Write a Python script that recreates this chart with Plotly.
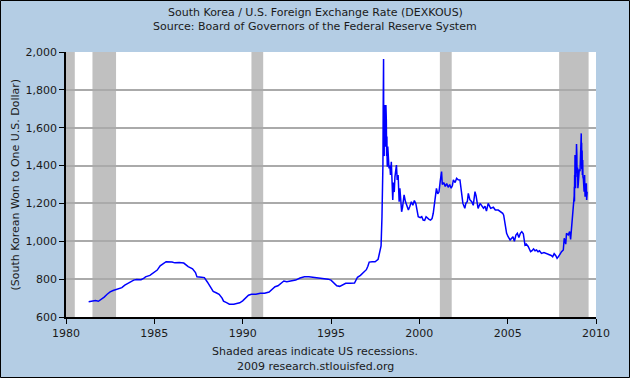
import plotly.graph_objects as go

# ---- data ----
dates = [
    "1981-04-13","1981-07-01","1981-09-01","1981-11-01","1982-01-01","1982-03-01","1982-05-01","1982-07-01",
    "1982-09-01","1982-11-01","1983-01-01","1983-03-01","1983-05-01","1983-08-01","1983-11-01","1984-01-01",
    "1984-04-01","1984-06-01","1984-07-01","1984-10-01","1985-01-01","1985-03-01","1985-05-01","1985-07-01",
    "1985-09-01","1986-01-01","1986-03-01","1986-06-01","1986-09-01","1986-12-01","1987-03-01","1987-05-01",
    "1987-06-01","1987-09-01","1987-11-01","1988-01-01","1988-03-01","1988-05-01","1988-07-01","1988-09-01",
    "1988-11-01","1988-12-01","1989-02-01","1989-04-01","1989-07-01","1989-09-01","1989-11-01","1990-01-01",
    "1990-03-01","1990-05-01","1990-07-01","1990-10-01","1991-01-01","1991-04-01","1991-07-01","1991-09-01",
    "1991-11-01","1992-01-01","1992-03-01","1992-05-01","1992-07-01","1992-09-01","1992-11-01","1993-01-01",
    "1993-04-01","1993-07-01","1993-10-01","1994-01-01","1994-05-01","1994-08-01","1994-11-01","1995-01-01",
    "1995-03-01","1995-05-01","1995-07-01","1995-09-01","1995-11-01","1996-02-01","1996-05-01","1996-07-01",
    "1996-09-01","1996-11-01","1997-01-01","1997-02-01","1997-03-01","1997-05-01","1997-07-01","1997-09-01",
    "1997-10-01","1997-11-01","1997-11-20","1997-12-01","1997-12-10","1997-12-15","1997-12-23","1997-12-26",
    "1997-12-29","1998-01-02","1998-01-05","1998-01-07","1998-01-09","1998-01-13","1998-01-16","1998-01-21",
    "1998-01-26","1998-01-30","1998-02-04","1998-02-09","1998-02-13","1998-02-18","1998-02-24","1998-03-02",
    "1998-03-05","1998-03-10",
    "1998-03-20","1998-04-01","1998-04-15","1998-05-01","1998-05-15","1998-06-01","1998-06-15","1998-07-01",
    "1998-07-15","1998-08-01","1998-08-15","1998-09-01","1998-09-15","1998-10-01","1998-10-20","1998-11-10",
    "1998-11-25","1998-12-10","1998-12-31","1999-01-20","1999-02-20","1999-03-20","1999-04-20","1999-05-20",
    "1999-06-20","1999-07-20","1999-08-20","1999-09-20","1999-10-20","1999-11-10","1999-12-10","2000-01-20",
    "2000-02-20","2000-03-20","2000-04-20","2000-05-20","2000-06-20","2000-07-20","2000-08-20","2000-09-20",
    "2000-10-15","2000-11-15","2000-12-20","2001-01-15","2001-02-10","2001-03-10","2001-04-05","2001-04-20",
    "2001-05-20","2001-06-20","2001-07-20","2001-08-20","2001-09-20","2001-10-20","2001-11-15","2001-12-05",
    "2002-01-10","2002-02-10","2002-03-15","2002-04-20","2002-05-20","2002-06-20","2002-07-30","2002-08-20",
    "2002-09-20","2002-10-10","2002-11-10","2002-12-20","2003-01-20","2003-02-25","2003-03-20","2003-04-30",
    "2003-06-10","2003-07-20","2003-08-20","2003-09-20","2003-10-20","2003-11-25","2003-12-20","2004-01-15",
    "2004-03-10","2004-04-20","2004-06-20","2004-08-10","2004-09-20","2004-10-10","2004-11-05","2004-12-10",
    "2005-01-10","2005-02-20","2005-03-20","2005-04-20","2005-05-20","2005-06-20","2005-07-20","2005-08-20",
    "2005-09-20","2005-10-20","2005-11-20","2005-12-25","2006-01-20","2006-03-01","2006-04-20","2006-05-20",
    "2006-06-20","2006-07-20","2006-08-20","2006-09-20","2006-10-20","2006-12-01","2007-01-20","2007-03-10",
    "2007-04-20","2007-05-20","2007-06-20","2007-07-20","2007-08-20","2007-09-20","2007-10-20","2007-11-20",
    "2007-12-20","2008-01-20","2008-02-25","2008-03-15","2008-04-15","2008-05-01","2008-06-05","2008-07-05",
    "2008-07-25","2008-08-20","2008-09-10","2008-09-25","2008-10-07","2008-10-10","2008-10-13","2008-10-16",
    "2008-10-20","2008-10-24","2008-10-28","2008-10-30","2008-11-04","2008-11-10","2008-11-14","2008-11-19",
    "2008-11-24","2008-11-27","2008-12-01","2008-12-05","2008-12-10","2008-12-17","2008-12-22","2008-12-30",
    "2009-01-10","2009-01-20","2009-02-05","2009-02-12","2009-02-20","2009-02-25","2009-03-02","2009-03-05",
    "2009-03-10","2009-03-13","2009-03-20","2009-03-25","2009-04-01","2009-04-06","2009-04-15","2009-04-30",
    "2009-05-10","2009-05-20","2009-06-01","2009-06-15","2009-06-22","2009-07-02",
]
won_per_usd = [
    680,684,687,683,692,705,720,733,
    740,746,748,755,768,783,795,798,
    797,805,812,820,835,848,870,882,
    892,891,886,888,885,866,855,835,
    812,810,808,785,760,735,728,720,
    700,684,676,668,668,670,675,685,
    700,715,720,720,725,725,732,745,
    760,765,778,790,786,789,792,795,
    806,812,812,810,808,806,800,795,
    780,765,762,770,778,778,779,810,
    820,835,850,868,890,892,892,905,
    935,975,1130,1250,1413,1700,1963,1600,
    1500,1700,1450,1720,1600,1700,1500,1720,
    1580,1650,1500,1720,1600,1640,1450,1553,
    1450,1394,
    1500,1447,1385,1400,1350,1420,1320,1218,
    1310,1260,1340,1380,1403,1324,1350,1209,
    1280,1230,1156,1180,1245,1210,1192,1165,
    1185,1209,1190,1215,1200,1175,1130,1125,
    1130,1112,1110,1130,1120,1116,1112,1120,
    1148,1200,1280,1250,1260,1320,1368,1300,
    1310,1290,1305,1285,1300,1280,1295,1324,
    1310,1333,1325,1324,1253,1200,1174,1200,
    1210,1253,1220,1209,1190,1262,1240,1174,
    1200,1183,1175,1185,1160,1200,1190,1174,
    1180,1165,1165,1156,1148,1138,1086,1042,
    1024,1007,1015,1024,1000,1033,1042,1020,
    1042,1051,1040,980,985,973,945,950,
    960,950,954,945,950,936,940,936,
    930,928,925,918,935,925,910,920,
    936,945,954,1016,985,1042,1033,1051,
    1010,1095,1148,1165,1240,1288,1210,1350,
    1300,1456,1350,1420,1280,1400,1340,1480,
    1514,1420,1460,1360,1306,1390,1280,1300,
    1350,1380,1370,1440,1482,1420,1570,1450,
    1520,1380,1480,1350,1430,1340,1330,1262,
    1350,1235,1272,1306,1218,1262,
]
recession_start = ["1980-01-01", "1981-07-01", "1990-07-01", "2001-03-01", "2007-12-01"]
recession_end = ["1980-07-01", "1982-11-01", "1991-03-01", "2001-11-01", "2009-08-01"]
y_ticks = [600, 800, 1000, 1200, 1400, 1600, 1800, 2000]
x_ticks = ["1980-01-01", "1985-01-01", "1990-01-01", "1995-01-01", "2000-01-01", "2005-01-01", "2010-01-01"]
x_tick_labels = ["1980", "1985", "1990", "1995", "2000", "2005", "2010"]

title_lines = ["South Korea / U.S. Foreign Exchange Rate (DEXKOUS)",
               "Source: Board of Governors of the Federal Reserve System"]
footer_lines = ["Shaded areas indicate US recessions.", "2009 research.stlouisfed.org"]
y_title = "(South Korean Won to One U.S. Dollar)"

# ---- figure ----
W, H = 630, 378
L, R, T, B = 66, 34, 52, 61
pw, ph = W - L - R, H - T - B
FONT = "DejaVu Sans"
TXT = "#1a1a1a"

def px_to_paper_x(px):
    return (px - L) / pw

def px_to_paper_y(py):
    return (H - B - py) / ph

fig = go.Figure()
fig.add_trace(go.Scatter(x=dates, y=won_per_usd, mode="lines",
                         line=dict(color="#0000FF", width=1.5), hoverinfo="x+y",
                         showlegend=False))

for s, e in zip(recession_start, recession_end):
    fig.add_shape(type="rect", xref="x", yref="paper", x0=s, x1=e, y0=0, y1=1,
                  fillcolor="#C0C0C0", line=dict(width=0), layer="between")

# outer frame
fig.add_shape(type="rect", xref="paper", yref="paper",
              x0=px_to_paper_x(0.5), x1=px_to_paper_x(W - 0.5),
              y0=px_to_paper_y(H - 0.5), y1=px_to_paper_y(0.5),
              line=dict(color="#000000", width=1), fillcolor="rgba(0,0,0,0)", layer="above")

ann = []
for txt, py in zip(title_lines, [12, 26]):
    ann.append(dict(text=txt, x=px_to_paper_x(315), y=px_to_paper_y(py), xref="paper", yref="paper",
                    xanchor="center", yanchor="middle", showarrow=False,
                    font=dict(family=FONT, size=11, color=TXT)))
for txt, py in zip(footer_lines, [351, 366]):
    ann.append(dict(text=txt, x=px_to_paper_x(315), y=px_to_paper_y(py), xref="paper", yref="paper",
                    xanchor="center", yanchor="middle", showarrow=False,
                    font=dict(family=FONT, size=11, color=TXT)))
ann.append(dict(text=y_title, x=px_to_paper_x(15), y=0.5, xref="paper", yref="paper",
                xanchor="center", yanchor="middle", showarrow=False, textangle=-90,
                font=dict(family=FONT, size=11, color=TXT)))

fig.update_layout(
    width=W, height=H,
    margin=dict(l=L, r=R, t=T, b=B, pad=0),
    paper_bgcolor="#B4CDE4",
    plot_bgcolor="#FFFFFF",
    font=dict(family=FONT, size=11, color=TXT),
    annotations=ann,
    showlegend=False,
    xaxis=dict(type="date", range=["1980-01-01", "2010-01-01"],
               tickvals=x_ticks, ticktext=x_tick_labels,
               showgrid=False, zeroline=False,
               showline=True, linecolor="#000000", linewidth=1.5,
               ticks="outside", ticklen=5, tickwidth=1, tickcolor="#000000",
               tickfont=dict(family=FONT, size=11, color=TXT)),
    yaxis=dict(range=[600, 2000], tickvals=y_ticks, tickformat=",d",
               showgrid=True, gridcolor="#AAAAAA", gridwidth=1.5, zeroline=False,
               showline=True, linecolor="#000000", linewidth=1.5,
               ticks="outside", ticklen=5, tickwidth=1, tickcolor="#000000",
               tickfont=dict(family=FONT, size=11, color=TXT)),
)

fig.write_html("out.html", config={"displayModeBar": False},
               post_script="document.body.style.margin='0';document.body.style.overflow='hidden';")
